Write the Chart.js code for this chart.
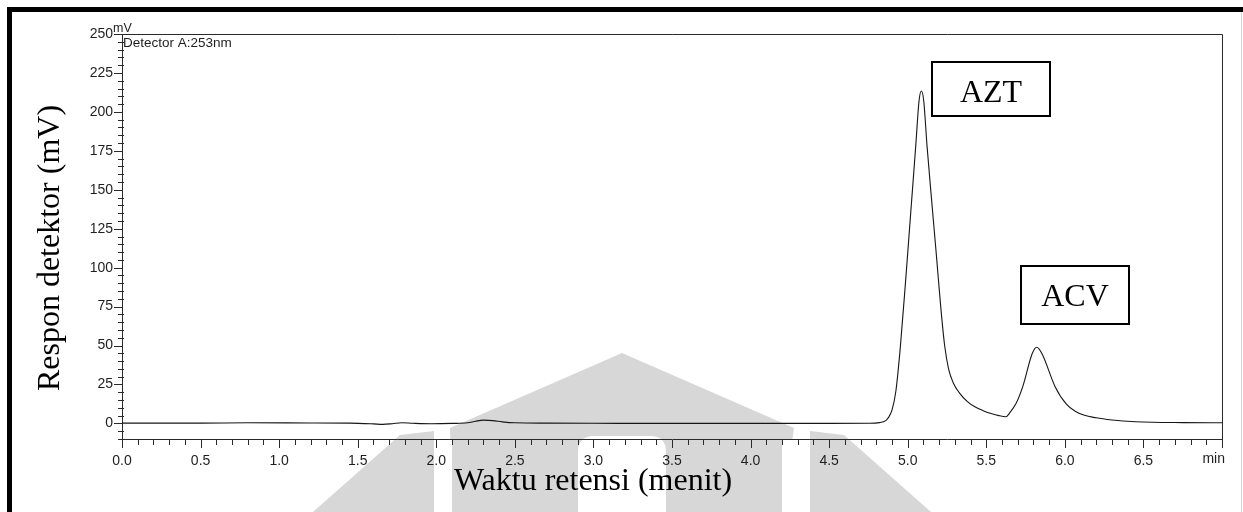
<!DOCTYPE html>
<html>
<head>
<meta charset="utf-8">
<title>Kromatogram AZT dan ACV</title>
<script src="https://cdn.jsdelivr.net/npm/chart.js@4.4.1/dist/chart.umd.min.js"></script>
<style>
  html, body { margin: 0; padding: 0; background: #ffffff; }
  #wrap { width: 1243px; height: 512px; position: relative; }
  canvas { display: block; }
</style>
</head>
<body>
<div id="wrap"><canvas id="chrom" width="1243" height="512"></canvas></div>
<script>
// Retention time (min) and detector response (mV) of the chromatogram trace
const retentionTime = [
  0.00, 0.50, 0.80, 1.20, 1.45, 1.60, 1.66, 1.72, 1.78, 1.85, 1.97, 2.10, 2.20, 2.25, 2.30, 2.36, 2.42, 2.50, 2.70, 3.00,
  3.50, 4.00, 4.50, 4.75, 4.82, 4.86, 4.875, 4.90, 4.925, 4.953, 4.987, 5.019, 5.051, 5.072, 5.087, 5.102, 5.123, 5.155,
  5.185, 5.210, 5.235, 5.260, 5.290, 5.330, 5.380, 5.430, 5.480, 5.530, 5.580, 5.625, 5.647, 5.690, 5.732, 5.793, 5.821,
  5.853, 5.938, 6.006, 6.090, 6.200, 6.300, 6.450, 6.750, 7.000
];
const detectorResponse = [
  0.2, 0.2, 0.4, 0.3, 0.2, -0.3, -0.6, -0.2, 0.4, 0.1, -0.2, 0.0, 0.4, 1.4, 2.1, 1.8, 1.0, 0.4, 0.2, 0.1,
  0.0, 0.0, 0.0, 0.1, 0.5, 1.8, 3.5, 8.5, 21, 49, 92, 135, 178, 207, 213.4, 207, 178, 140,
  105, 75, 50, 35, 26, 19.5, 14, 10.5, 8.2, 6.4, 5.0, 4.3, 6.5, 12.9, 23.6, 45, 48.9,
  45, 23.6, 12.9, 6.5, 3.6, 2.2, 1.1, 0.5, 0.4
];

// Axis tick values
const xTickValues = [0, 0.5, 1, 1.5, 2, 2.5, 3, 3.5, 4, 4.5, 5, 5.5, 6, 6.5, 7];
const yTickValues = [0, 25, 50, 75, 100, 125, 150, 175, 200, 225, 250];

// Peak names
const peakNames = ['AZT', 'ACV'];

const SANS = "'Liberation Sans', Arial, Helvetica, sans-serif";
const SERIF = "'Liberation Serif', 'Times New Roman', Times, serif";
const AXIS_COLOR = '#2a2a2a';
const TEXT_COLOR = '#1e1e1e';

// Faint institutional watermark behind the chart
const watermarkPlugin = {
  id: 'watermark',
  beforeDraw(chart) {
    const c = chart.ctx;
    c.save();
    c.fillStyle = '#ffffff';
    c.fillRect(0, 0, chart.width, chart.height);
    c.fillStyle = '#d7d7d7';
    const cx = 622;
    // central body
    c.beginPath();
    c.moveTo(cx, 353);
    c.lineTo(cx + 172, 428);
    c.lineTo(cx + 160, 512);
    c.lineTo(cx - 170, 512);
    c.lineTo(cx - 172, 428);
    c.closePath();
    c.fill();
    // side wings
    [-1, 1].forEach(function (s) {
      c.beginPath();
      c.moveTo(cx + s * 188, 431);
      c.lineTo(cx + s * 222, 435);
      c.lineTo(cx + s * 309, 512);
      c.lineTo(cx + s * 188, 512);
      c.closePath();
      c.fill();
    });
    // openings between body and wings
    c.fillStyle = '#ffffff';
    c.fillRect(cx + 160, 440, 26, 72);
    c.fillRect(cx - 188, 440, 18, 72);
    // central arch opening
    const aL = cx - 44, aR = cx + 44, aT = 436, r = 16;
    c.beginPath();
    c.moveTo(aL, 512);
    c.lineTo(aL, aT + r);
    c.quadraticCurveTo(aL, aT, aL + r, aT);
    c.lineTo(aR - r, aT);
    c.quadraticCurveTo(aR, aT, aR, aT + r);
    c.lineTo(aR, 512);
    c.closePath();
    c.fill();
    c.restore();
  }
};

// Page frame, plot frame, tick marks, titles and peak labels
const decorPlugin = {
  id: 'decor',
  afterDraw(chart) {
    const c = chart.ctx;
    const a = chart.chartArea;
    const xs = chart.scales.x, ys = chart.scales.y;
    c.save();

    // top and right sides of the plot frame
    c.strokeStyle = AXIS_COLOR;
    c.lineWidth = 1;
    c.beginPath();
    c.moveTo(a.left, a.top + 0.5);
    c.lineTo(a.right + 0.5, a.top + 0.5);
    c.lineTo(a.right + 0.5, a.bottom);
    c.stroke();

    // x tick marks every 0.1 min, longer every 0.5 min
    c.beginPath();
    for (let i = 0; i <= 70; i++) {
      const px = Math.round(xs.getPixelForValue(i / 10)) + 0.5;
      const major = i % 5 === 0;
      c.moveTo(px, a.bottom + 1);
      c.lineTo(px, a.bottom + (major ? 9 : 6));
    }
    // y tick marks every 5 mV, longer every 25 mV
    for (let v = -10; v <= 250; v += 5) {
      const py = Math.round(ys.getPixelForValue(v)) + 0.5;
      if (v % 25 === 0) {
        c.moveTo(a.left - 8, py);
        c.lineTo(a.left, py);
      } else {
        c.moveTo(a.left - 4, py);
        c.lineTo(a.left + 2, py);
      }
    }
    c.stroke();

    // unit labels
    c.fillStyle = TEXT_COLOR;
    c.font = '12.5px ' + SANS;
    c.textAlign = 'left';
    c.textBaseline = 'alphabetic';
    c.fillText('mV', 113, 32);
    c.font = '13.5px ' + SANS;
    c.fillText('Detector A:253nm', 123, 47);
    c.font = '14px ' + SANS;
    c.textAlign = 'right';
    c.fillText('min', 1225, 463);

    // axis titles
    c.fillStyle = '#000000';
    c.font = '32px ' + SERIF;
    c.textAlign = 'center';
    c.fillText('Waktu retensi (menit)', 593, 490);
    c.save();
    c.translate(59, 248);
    c.rotate(-Math.PI / 2);
    c.fillText('Respon detektor (mV)', 0, 0);
    c.restore();

    // boxed peak names
    const boxes = [
      { name: peakNames[0], l: 932, t: 62, w: 118, h: 54, base: 102 },
      { name: peakNames[1], l: 1021, t: 266, w: 108, h: 58, base: 306 }
    ];
    c.strokeStyle = '#000000';
    c.lineWidth = 2;
    boxes.forEach(function (b) {
      c.fillStyle = '#ffffff';
      c.fillRect(b.l, b.t, b.w, b.h);
      c.strokeRect(b.l, b.t, b.w, b.h);
      c.fillStyle = '#000000';
      c.fillText(b.name, b.l + b.w / 2, b.base);
    });

    // page border
    c.fillStyle = '#000000';
    c.fillRect(7, 7, 1236, 5);
    c.fillRect(7, 7, 5, 505);
    c.fillStyle = '#d4d4d4';
    c.fillRect(1241, 12, 1, 500);
    c.restore();
  }
};

const points = retentionTime.map(function (t, i) { return { x: t, y: detectorResponse[i] }; });

new Chart(document.getElementById('chrom').getContext('2d'), {
  type: 'line',
  data: {
    datasets: [{
      data: points,
      borderColor: '#161616',
      borderWidth: 1.1,
      pointRadius: 0,
      fill: false,
      cubicInterpolationMode: 'monotone'
    }]
  },
  options: {
    responsive: false,
    animation: false,
    devicePixelRatio: 1,
    layout: { padding: { left: 0, top: 34, right: 21, bottom: 0 } },
    plugins: { legend: { display: false }, tooltip: { enabled: false } },
    scales: {
      x: {
        type: 'linear',
        min: 0,
        max: 7,
        afterBuildTicks: function (s) { s.ticks = xTickValues.map(function (v) { return { value: v }; }); },
        afterFit: function (s) { s.height = 73; },
        grid: { display: false, drawTicks: false },
        border: { display: true, color: AXIS_COLOR, width: 1 },
        ticks: {
          padding: 14,
          autoSkip: false,
          maxRotation: 0,
          color: TEXT_COLOR,
          font: { family: SANS, size: 14 },
          callback: function (v) { return v === 7 ? '' : Number(v).toFixed(1); }
        }
      },
      y: {
        type: 'linear',
        min: -10,
        max: 250,
        afterBuildTicks: function (s) { s.ticks = yTickValues.map(function (v) { return { value: v }; }); },
        afterFit: function (s) { s.width = 122; },
        grid: { display: false, drawTicks: false },
        border: { display: true, color: AXIS_COLOR, width: 1 },
        ticks: {
          padding: 9,
          color: TEXT_COLOR,
          font: { family: SANS, size: 14 },
          callback: function (v) { return String(v); }
        }
      }
    }
  },
  plugins: [watermarkPlugin, decorPlugin]
});
</script>
</body>
</html>
